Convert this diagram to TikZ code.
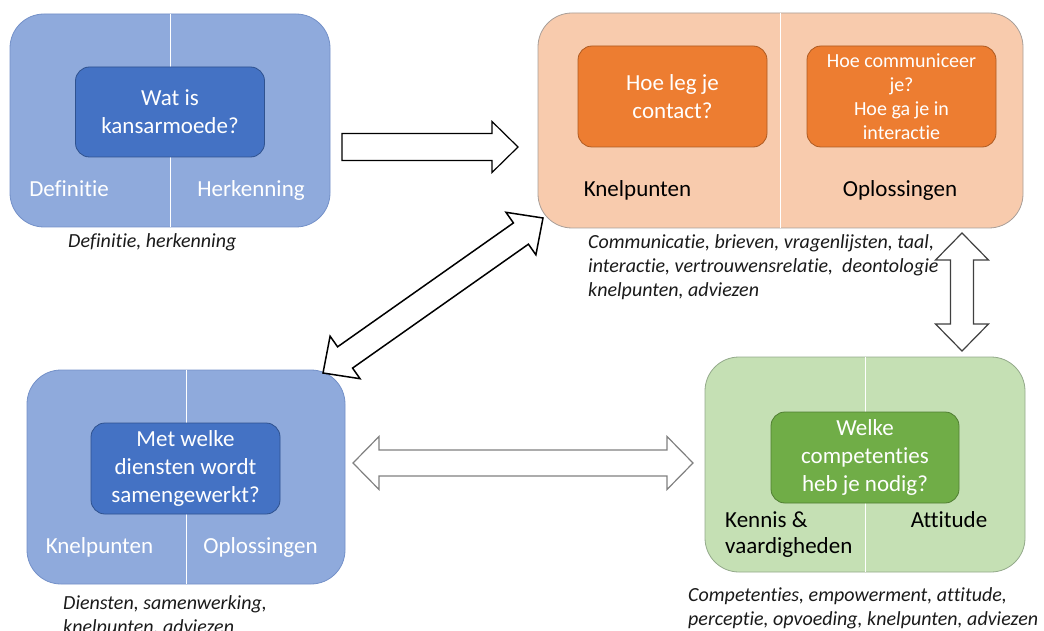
\documentclass[tikz,border=0pt]{standalone}
\usepackage{fontspec}
\setmainfont{Carlito}[Ligatures=NoCommon]
\usetikzlibrary{calc,positioning}
\definecolor{blueback}{HTML}{8FAADC}
\definecolor{blueedge}{HTML}{7390C8}
\definecolor{bluecore}{HTML}{4472C4}
\definecolor{bluecoreedge}{HTML}{2F528F}
\definecolor{orangeback}{HTML}{F8CBAD}
\definecolor{orangeedge}{HTML}{A89E98}
\definecolor{orangecore}{HTML}{ED7D31}
\definecolor{orangecoreedge}{HTML}{AE5A21}
\definecolor{greenback}{HTML}{C5E0B4}
\definecolor{greenedge}{HTML}{93A98A}
\definecolor{greencore}{HTML}{70AD47}
\definecolor{greencoreedge}{HTML}{507E32}
\definecolor{captiontext}{HTML}{1A1A1A}

\newcommand{\twoway}[6][]{%
  \coordinate (ta) at ($(#2)!#5!(#3)$);
  \coordinate (tb) at ($(#3)!#5!(#2)$);
  \draw[blockarrow,#1] (#2) -- ($(ta)!#6!90:(#3)$) -- ($(ta)!#4!90:(#3)$)
    -- ($(tb)!#4!-90:(#2)$) -- ($(tb)!#6!-90:(#2)$) -- (#3)
    -- ($(tb)!#6!90:(#2)$) -- ($(tb)!#4!90:(#2)$)
    -- ($(ta)!#4!-90:(#3)$) -- ($(ta)!#6!-90:(#3)$) -- cycle;}
\newcommand{\oneway}[6][]{%
  \coordinate (tb) at ($(#3)!#5!(#2)$);
  \draw[blockarrow,#1] ($(#2)!#4!90:(#3)$)
    -- ($(tb)!#4!-90:(#2)$) -- ($(tb)!#6!-90:(#2)$) -- (#3)
    -- ($(tb)!#6!90:(#2)$) -- ($(tb)!#4!90:(#2)$)
    -- ($(#2)!#4!-90:(#3)$) -- cycle;}

\begin{document}
\begin{tikzpicture}[
    x=1pt, y=-1pt,
    panel/.style={draw, rounded corners=34pt, line width=0.8pt, inner sep=0pt},
    core/.style={draw, rounded corners=14pt, line width=0.8pt, inner sep=0pt,
                 text=white, align=center, font=\fontsize{23}{28}\selectfont},
    tag/.style={inner sep=0pt, font=\fontsize{23}{28}\selectfont},
    caption/.style={inner sep=0pt, align=left, text=captiontext,
                    font=\fontsize{20}{24}\selectfont\itshape},
    split/.style={white, line width=0.8pt},
    blockarrow/.style={draw, fill=white, line width=1.2pt, line join=miter}
]
  \useasboundingbox (0,0) rectangle (1044,631);

  \node[panel, fill=blueback, draw=blueedge, minimum width=320, minimum height=213]
    (defbox) at (170,120.5) {};
  \draw[split] (defbox.north) -- (defbox.south);
  \node[core, fill=bluecore, draw=bluecoreedge, minimum width=189, minimum height=90]
    (defq) at (170,112) {Wat is\\kansarmoede?};
  \node[tag, white, anchor=base] (defl) at (69,197) {Definitie};
  \node[tag, white, anchor=base] (defr) at (251,197) {Herkenning};
  \node[caption, anchor=north west] (defcap) at (68,233) {Definitie, herkenning};

  \node[panel, fill=orangeback, draw=orangeedge, minimum width=485, minimum height=215]
    (combox) at (780.5,120.5) {};
  \draw[split] (combox.north) -- (combox.south);
  \node[core, fill=orangecore, draw=orangecoreedge, minimum width=189, minimum height=101]
    (comq1) at (672.5,96.5) {Hoe leg je\\contact?};
  \node[core, fill=orangecore, draw=orangecoreedge, minimum width=189, minimum height=101,
        font=\fontsize{20}{24}\selectfont]
    (comq2) at (901.5,96.5) {Hoe communiceer\\je?\\Hoe ga je in\\interactie};
  \node[tag, anchor=base] (coml) at (637.5,197) {Knelpunten};
  \node[tag, anchor=base] (comr) at (900,197) {Oplossingen};
  \node[caption, anchor=north west] (comcap) at (588,234)
    {Communicatie, brieven, vragenlijsten, taal,\\
     interactie, vertrouwensrelatie,\ \ deontologie\\
     knelpunten, adviezen};

  \node[panel, fill=blueback, draw=blueedge, minimum width=318, minimum height=214]
    (netbox) at (186,477) {};
  \draw[split] (netbox.north) -- (netbox.south);
  \node[core, fill=bluecore, draw=bluecoreedge, minimum width=189, minimum height=91]
    (netq) at (185.5,468.5) {Met welke\\diensten wordt\\samengewerkt?};
  \node[tag, white, anchor=base] (netl) at (99.5,553) {Knelpunten};
  \node[tag, white, anchor=base] (netr) at (260.5,553) {Oplossingen};
  \node[caption, anchor=north west] (netcap) at (63,595)
    {Diensten, samenwerking,\\knelpunten, adviezen};

  \node[panel, fill=greenback, draw=greenedge, minimum width=320, minimum height=215]
    (skillbox) at (865,464.5) {};
  \draw[split] (skillbox.north) -- (skillbox.south);
  \node[core, fill=greencore, draw=greencoreedge, minimum width=188, minimum height=91]
    (skillq) at (865,457.5) {Welke\\competenties\\heb je nodig?};
  \node[tag, anchor=base west, align=left] (skilll) at (725,527) {Kennis \&};
  \node[tag, anchor=base west] (skilll2) at (725,553) {vaardigheden};
  \node[tag, anchor=base] (skillr) at (949,527) {Attitude};
  \node[caption, anchor=north west] (skillcap) at (688,587)
    {Competenties, empowerment, attitude,\\perceptie, opvoeding, knelpunten, adviezen};

  \coordinate (toptail) at (342,147);
  \coordinate (toptip) at (518,147);
  \coordinate (diagsw) at (323,373);
  \coordinate (diagne) at (543,218);
  \coordinate (midw) at (353,463);
  \coordinate (mide) at (693,463);
  \coordinate (sidetop) at (962,233);
  \coordinate (sidebot) at (962,351);

  \oneway{toptail}{toptip}{13.5pt}{26pt}{25.5pt}
  \twoway[line width=1.5pt]{diagsw}{diagne}{13pt}{27pt}{26pt}
  \twoway[draw=black!50]{midw}{mide}{13pt}{26pt}{26.5pt}
  \twoway[draw=black!75]{sidetop}{sidebot}{11.5pt}{27pt}{26.5pt}
\end{tikzpicture}
\end{document}
